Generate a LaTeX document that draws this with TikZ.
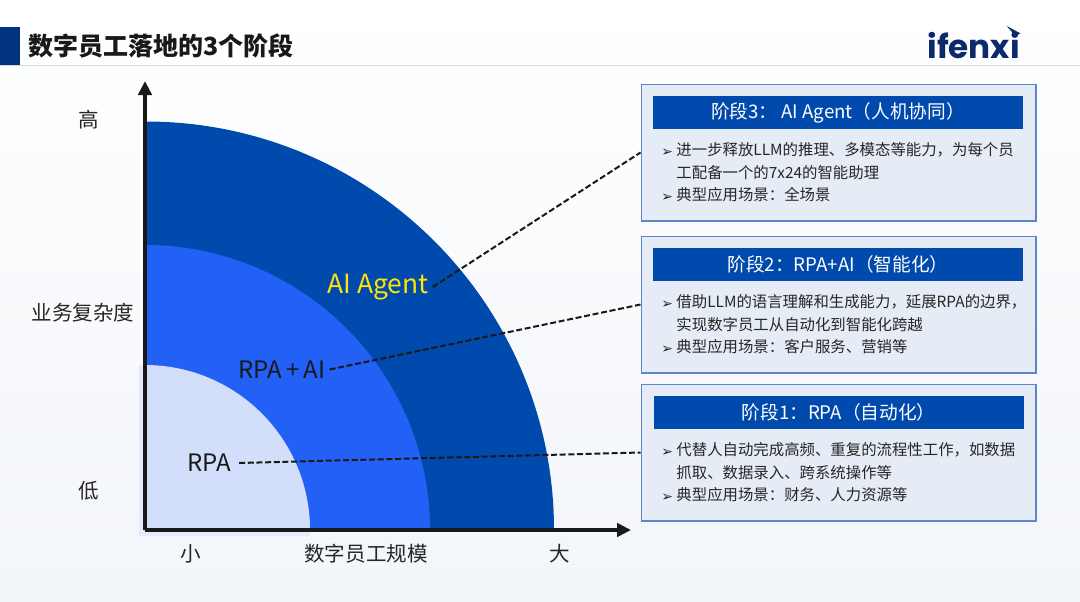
\documentclass[tikz,border=0pt]{standalone}
\usepackage{fontspec}
\usepackage{xcolor}
\setmainfont{Noto Sans CJK SC}
\newfontfamily\logofont{Poppins}
\newfontfamily\markfont{DejaVu Sans}
\usetikzlibrary{arrows,arrows.meta,shapes,positioning}

\definecolor{navyblock}{HTML}{003380}
\definecolor{darkband}{HTML}{004AAD}
\definecolor{midband}{HTML}{2260F6}
\definecolor{lightband}{HTML}{D3DEFB}
\definecolor{boxfill}{HTML}{E6ECF5}
\definecolor{boxline}{HTML}{5B86C9}
\definecolor{agentyellow}{HTML}{FFE500}
\definecolor{logoblue}{HTML}{0B2A6B}
\definecolor{pagebottom}{HTML}{F2F5FA}

\newcommand{\arrowmark}{\makebox[11.4pt][l]{\raisebox{-0.3pt}{\markfont\fontsize{10.5pt}{10pt}\selectfont ➢}}}

\tikzset{
  stagebox/.style={draw=boxline, line width=1pt, fill=boxfill, minimum width=296pt, minimum height=102.5pt, inner sep=0pt},
  stagehead/.style={fill=darkband, text=white, font=\fontsize{14pt}{16pt}\selectfont, minimum width=277.5pt, minimum height=24.7pt, inner sep=0pt},
  stagetext/.style={anchor=west, align=left, inner sep=0pt, text=black!85, font=\fontsize{11.55pt}{16.9pt}\selectfont},
  axislabel/.style={inner sep=0pt, text=black!85, font=\fontsize{15.4pt}{18pt}\selectfont},
  bandlabel/.style={inner sep=3pt, font=\fontsize{18pt}{20pt}\selectfont},
  axisline/.style={-{Triangle[width=10pt,length=10.5pt]}, line width=3pt, black!90},
  leader/.style={dash pattern=on 4.5pt off 2pt, line width=1.5pt, black!90}
}

\begin{document}
\begin{tikzpicture}[x=0.75pt, y=-0.75pt]
\useasboundingbox (0,0) rectangle (1080,601);

\shade[top color=white, bottom color=pagebottom] (0,0) rectangle (1080,601);

% header
\fill[navyblock] (0,27) rectangle (20,65);
\draw[black!15, line width=1pt] (0,65.5) -- (1080,65.5);
\node[anchor=west, inner sep=0pt, text=black!90, font=\fontsize{18.75pt}{22pt}\selectfont\bfseries] (title) at (28,46) {数字员工落地的3个阶段};

\node[anchor=east, inner sep=0pt, text=logoblue, font=\logofont\fontsize{24.5pt}{30pt}\selectfont\bfseries] (logo) at (1020,46) {ifenxi};
\fill[logoblue] (1006.7,26) -- (1020.3,33.3) -- (1013.3,37.3) -- (1011.7,31.7) -- cycle;

% bands
\coordinate (origin) at (145,530);
\coordinate (ytip) at (145,81);
\coordinate (xtip) at (631,530);

\fill[lightband!60!white] (139,365) rectangle (310,536);
\fill[darkband] (origin) -- ++(409,0) arc (0:-90:408.5) -- cycle;
\fill[midband] (origin) -- ++(285,0) arc (0:-90:285) -- cycle;
\fill[lightband] (origin) -- ++(165,0) arc (0:-90:165) -- cycle;

\draw[axisline] (origin) -- (ytip);
\draw[axisline] (origin) -- (xtip);

\node[axislabel] (high) at (89,120) {高};
\node[axislabel] (ytitle) at (83,313) {业务复杂度};
\node[axislabel] (low) at (89,491) {低};
\node[axislabel] (small) at (191,554) {小};
\node[axislabel] (xtitle) at (366,554) {数字员工规模};
\node[axislabel] (big) at (560,554) {大};

\node[bandlabel, text=agentyellow, font=\fontsize{19.8pt}{22pt}\selectfont] (agent) at (378,287) {AI Agent};
\node[bandlabel, text=black!90] (rpaai) at (282,369.5) {RPA\,+\,AI};
\node[bandlabel, text=black!90, inner sep=6pt] (rpa) at (209,463) {RPA};

% stage boxes
\node[stagebox] (box3) at (838.5,152.5) {};
\node[stagebox] (box2) at (838.5,304.5) {};
\node[stagebox] (box1) at (838.5,452.5) {};

\node[stagehead] (head3) at (838,112.5) {阶段3： AI Agent（人机协同）};
\node[stagehead] (head2) at (838,264.5) {阶段2：RPA+AI（智能化）};
\node[stagehead] (head1) at (838.5,412.5) {阶段1：RPA（自动化）};

\node[stagetext] (text3) at (661,172.5) {\arrowmark 进一步释放LLM的推理、多模态等能力，为每个员\\\hspace{11.4pt}工配备一个的7x24的智能助理\\\arrowmark 典型应用场景：全场景};
\node[stagetext] (text2) at (661,324.5) {\arrowmark 借助LLM的语言理解和生成能力，延展RPA的边界，\\\hspace{11.4pt}实现数字员工从自动化到智能化跨越\\\arrowmark 典型应用场景：客户服务、营销等};
\node[stagetext] (text1) at (661,472.5) {\arrowmark 代替人自动完成高频、重复的流程性工作，如数据\\\hspace{11.4pt}抓取、数据录入、跨系统操作等\\\arrowmark 典型应用场景：财务、人力资源等};

% leaders
\draw[leader] (agent.east) -- (box3.west);
\draw[leader] (rpaai.east) -- (box2.west);
\draw[leader] (rpa.east) -- (box1.west);

\end{tikzpicture}
\end{document}
